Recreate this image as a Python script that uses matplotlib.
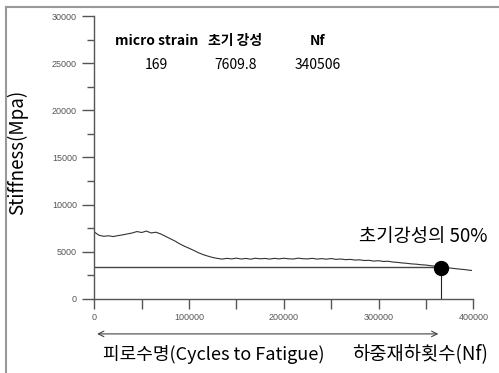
import matplotlib.pyplot as plt
from matplotlib.lines import Line2D
from matplotlib.ticker import MultipleLocator

plt.rcParams['font.family'] = ['Noto Sans CJK KR', 'DejaVu Sans']

# stiffness curve (cycles, MPa)
cycles = [0, 5000, 10000, 15000, 20000, 25000, 30000, 35000, 40000, 45000,
          50000, 55000, 60000, 65000, 70000, 75000, 80000, 85000, 90000, 95000,
          100000, 105000, 110000, 115000, 120000, 125000, 130000, 135000, 140000, 145000,
          150000, 155000, 160000, 165000, 170000, 175000, 180000, 185000, 190000, 195000,
          200000, 205000, 210000, 215000, 220000, 225000, 230000, 235000, 240000, 245000,
          250000, 255000, 260000, 265000, 270000, 275000, 280000, 285000, 290000, 295000,
          300000, 305000, 310000, 315000, 320000, 325000, 330000, 335000, 340000, 345000,
          350000, 355000, 360000, 365000, 370000, 375000, 380000, 385000, 390000, 395000, 398000]
stiffness = [7100, 6750, 6650, 6700, 6620, 6720, 6800, 6900, 7000, 7150,
             7050, 7200, 7000, 7080, 6900, 6650, 6400, 6150, 5850, 5600,
             5380, 5150, 4900, 4700, 4540, 4400, 4300, 4230, 4310, 4250,
             4330, 4240, 4300, 4220, 4320, 4260, 4300, 4230, 4310, 4250,
             4320, 4260, 4240, 4330, 4270, 4250, 4310, 4230, 4280, 4220,
             4290, 4200, 4240, 4170, 4200, 4130, 4150, 4080, 4100, 4020,
             4060, 3980, 4000, 3920, 3880, 3820, 3780, 3720, 3690, 3630,
             3600, 3530, 3480, 3420, 3380, 3290, 3230, 3170, 3130, 3060, 3030]

threshold = 3400       # 초기강성의 50% line
nf_point = 366000      # cycles where curve meets the line
table_headers = ['micro strain', '초기 강성', 'Nf']
table_values = ['169', '7609.8', '340506']
table_x = [66000, 149000, 236000]

fig = plt.figure(figsize=(4.99, 3.73), dpi=100)
ax = fig.add_axes([0.1890, 0.1984, 0.7596, 0.7587])

ax.plot(cycles, stiffness, color='#333333', lw=0.8)
ax.plot([0, nf_point], [threshold, threshold], color='#444444', lw=1.0)
ax.plot([nf_point, nf_point], [0, threshold], color='#222222', lw=0.8)
ax.plot([nf_point], [threshold - 150], 'o', color='black', ms=10)

ax.set_xlim(0, 400000)
ax.set_ylim(0, 30000)
ax.xaxis.set_major_locator(MultipleLocator(100000))
ax.xaxis.set_minor_locator(MultipleLocator(50000))
ax.yaxis.set_major_locator(MultipleLocator(5000))
ax.yaxis.set_minor_locator(MultipleLocator(2500))
for s in ['top', 'right']:
    ax.spines[s].set_visible(False)
for s in ['left', 'bottom']:
    ax.spines[s].set_color('#555555')
    ax.spines[s].set_linewidth(1.0)
ax.tick_params(which='major', length=9, width=1, color='#555555',
               labelsize=6.5, labelcolor='#555555')
ax.tick_params(which='minor', length=5, width=1, color='#555555')
ax.tick_params(axis='x', which='both', length=7, pad=3)
for lab in ax.get_xticklabels() + ax.get_yticklabels():
    lab.set_family('Liberation Sans')

for hx, h, v in zip(table_x, table_headers, table_values):
    ax.text(hx, 27300, h, ha='center', va='center', fontsize=10, fontweight='bold')
    ax.text(hx, 24800, v, ha='center', va='center', fontsize=10)

ax.text(279000, 6650, '초기강성의 50%', ha='left', va='center', fontsize=13.5)

ax.annotate('', xy=(nf_point, -3700), xytext=(0, -3700),
            arrowprops=dict(arrowstyle='<->', color='#444444', lw=0.8),
            annotation_clip=False)

fig.text(18 / 499, 1 - 152 / 373, 'Stiffness(Mpa)', rotation=90,
         ha='center', va='center', fontsize=13.5)
fig.text(103 / 499, 1 - 355 / 373, '피로수명(Cycles to Fatigue)',
         ha='left', va='center', fontsize=13)
fig.text(352 / 499, 1 - 355 / 373, '하중재하횟수(Nf)',
         ha='left', va='center', fontsize=13.5)

# image frame
fig.add_artist(Line2D([6 / 499, 1], [1 - 7 / 373, 1 - 7 / 373], color='#999999', lw=1.5))
fig.add_artist(Line2D([6 / 499, 6 / 499], [0, 1 - 7 / 373], color='#999999', lw=1.5))

fig.savefig('out.png', dpi=100)
